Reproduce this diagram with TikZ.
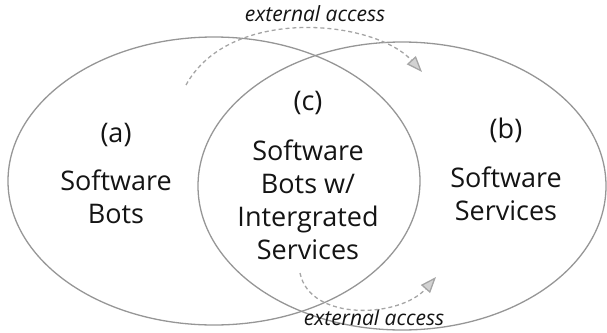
\documentclass[tikz,border=0pt]{standalone}
\usepackage{fontspec}
\setmainfont{Open Sans}
\usetikzlibrary{positioning,arrows.meta,shapes.geometric}
\definecolor{Ring}{RGB}{150,150,150}
\definecolor{Dash}{RGB}{165,165,165}
\definecolor{TipFill}{RGB}{210,210,210}
\definecolor{Ink}{RGB}{20,20,20}
\begin{document}
\begin{tikzpicture}[x=1pt,y=-1pt,
  region/.style={ellipse,draw=Ring,line width=1.3pt,inner sep=0pt},
  tag/.style={text=Ink,inner sep=0pt,font=\fontsize{27}{33}\selectfont},
  body/.style={text=Ink,inner sep=0pt,align=center,font=\fontsize{27}{33}\selectfont},
  note/.style={text=Ink,inner sep=0pt,font=\fontsize{21}{24}\selectfont\itshape},
  access/.style={-{Triangle[length=16pt,width=12pt,fill=TipFill]},dashed,dash pattern=on 4pt off 3pt,line width=1.3pt,Dash}]
\useasboundingbox (0,0) rectangle (607,332);
\node[region,minimum width=412pt,minimum height=288pt] (bots) at (214,181) {};
\node[region,minimum width=408pt,minimum height=288pt] (services) at (402,186) {};
\node[tag] (a) at (116,135) {(a)};
\node[body] (botstxt) at (116,197) {Software\\Bots};
\node[tag] (c) at (308,103) {(c)};
\node[body] (mixtxt) at (308,200) {Software\\Bots w/\\Intergrated\\Services};
\node[tag] (b) at (506,130) {(b)};
\node[body] (servtxt) at (506,194) {Software\\Services};
\node[note] (topnote) at (315,14) {external access};
\node[note] (lownote) at (374,318) {external access};
\coordinate (topfrom) at (186,85); \coordinate (topto) at (422,72);
\coordinate (lowfrom) at (300,273); \coordinate (lowto) at (436,277);
\draw[access] (topfrom) .. controls (230,5) and (375,20) .. (topto);
\draw[access] (lowfrom) .. controls (310,322) and (400,318) .. (lowto);
\end{tikzpicture}
\end{document}
